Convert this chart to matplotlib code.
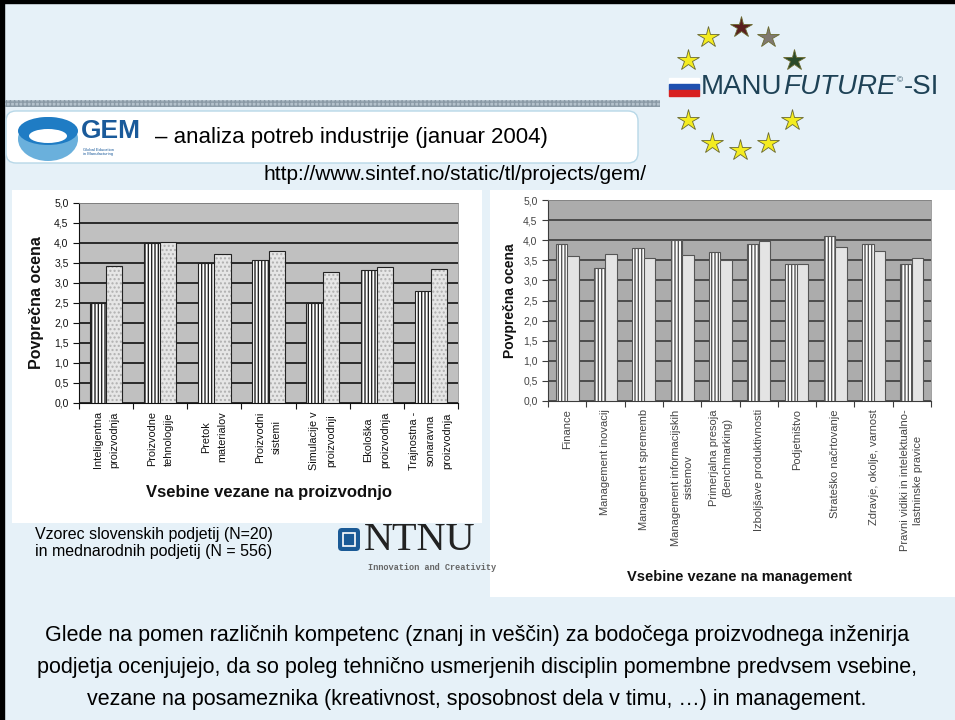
import numpy as np
import matplotlib
matplotlib.use("Agg")
import matplotlib.pyplot as plt
from matplotlib.patches import Rectangle, FancyBboxPatch, Ellipse

# data
prod_labels = ["Inteligentna\nproizvodnja", "Proizvodne\ntehnologije", "Pretok\nmaterialov",
               "Proizvodni\nsistemi", "Simulacije v\nproizvodnji", "Ekološka\nproizvodnja",
               "Trajnostna -\nsonaravna\nproizvodnja"]
prod_slo = [2.5, 4.0, 3.5, 3.58, 2.5, 3.32, 2.8]
prod_int = [3.43, 4.03, 3.73, 3.8, 3.28, 3.4, 3.35]

mgmt_labels = ["Finance", "Management inovacij", "Management sprememb",
               "Management informacijskih\nsistemov", "Primerjalna presoja\n(Benchmarking)",
               "Izboljšave produktivnosti", "Podjetništvo", "Strateško načrtovanje",
               "Zdravje, okolje, varnost", "Pravni vidiki in intelektualno-\nlastninske pravice"]
mgmt_slo = [3.9, 3.3, 3.8, 4.0, 3.7, 3.9, 3.4, 4.1, 3.9, 3.4]
mgmt_int = [3.6, 3.65, 3.55, 3.63, 3.5, 3.98, 3.42, 3.83, 3.72, 3.56]

y_ticks = [0.0, 0.5, 1.0, 1.5, 2.0, 2.5, 3.0, 3.5, 4.0, 4.5, 5.0]

footer = ["Glede na pomen različnih kompetenc (znanj in veščin) za bodočega proizvodnega inženirja",
          "podjetja ocenjujejo, da so poleg tehnično usmerjenih disciplin pomembne predvsem vsebine,",
          "vezane na posameznika (kreativnost, sposobnost dela v timu, …) in management."]

plt.rcParams["font.family"] = ["Liberation Sans", "DejaVu Sans"]

W, H = 955, 720
fig = plt.figure(figsize=(9.55, 7.2), dpi=100, facecolor="#e6f1f8")
rend = fig.canvas.get_renderer()

# background / decorations in pixel coordinates
bg = fig.add_axes([0, 0, 1, 1])
bg.set_xlim(0, W)
bg.set_ylim(H, 0)
bg.axis("off")
bg.add_patch(Rectangle((0, 0), 4, H, color="black"))
bg.add_patch(Rectangle((0, 0), W, 3, color="black"))
bg.add_patch(Rectangle((5, 100), 655, 7, facecolor="#b4c2cc", edgecolor="#8a9aa6",
                       hatch="++++", lw=0))
bg.add_patch(FancyBboxPatch((6, 111), 632, 52, boxstyle="round,pad=0,rounding_size=10",
                            facecolor="white", edgecolor="#b8d8e8", lw=1))
# GEM logo
bg.add_patch(Ellipse((48, 139), 60, 44, facecolor="#6ab0dc", edgecolor="none"))
bg.add_patch(Ellipse((48, 131), 60, 28, facecolor="#1f7cc4", edgecolor="none"))
bg.add_patch(Ellipse((48, 136), 38, 14, facecolor="white", edgecolor="none"))
bg.text(81, 131, "GEM", fontsize=19, fontweight="bold", color="#1a5a9a",
        va="center", ha="left")
bg.text(83, 152, "Global Education\nin Manufacturing", fontsize=3, color="#1a5a9a",
        va="center", ha="left", linespacing=1.1)
bg.text(155, 137, "– analiza potreb industrije (januar 2004)", fontsize=16,
        va="center", ha="left")
bg.text(455, 174, "http://www.sintef.no/static/tl/projects/gem/", fontsize=15,
        va="center", ha="center")

# MANUFUTURE-SI logo
star_x = [708, 741, 768, 794, 688, 688, 792, 712, 740, 768]
star_y = [37, 27, 37, 60, 60, 120, 120, 143, 150, 143]
star_c = ["#f4ec20", "#5a1e1e", "#807870", "#2a4a2a", "#f4ec20", "#f4ec20", "#f4ec20",
          "#f4ec20", "#f4ec20", "#f4ec20"]
for sx, sy, sc in zip(star_x, star_y, star_c):
    bg.plot(sx, sy, marker="*", ms=16, mfc=sc, mec="#6a6a30", mew=0.6)
bg.add_patch(Rectangle((669, 78), 30, 6, color="white"))
bg.add_patch(Rectangle((669, 84), 30, 6, color="#2050b0"))
bg.add_patch(Rectangle((669, 90), 30, 6, color="#d82020"))
logo_parts = [("MANU", 20, "normal", 0), ("FUTURE", 20, "italic", 0),
              ("©", 6, "normal", -6), ("-SI", 20, "normal", 0)]
xpos = 701
for s, fs, st, dy in logo_parts:
    t = bg.text(xpos, 87 + dy, s, fontsize=fs, color="#1e4256", va="center", ha="left",
                style=st)
    xpos = t.get_window_extent(rend).x1 + 1

# chart panels
bg.add_patch(Rectangle((12, 190), 470, 333, color="white", lw=0))
bg.add_patch(Rectangle((490, 190), 465, 407, color="white", lw=0))

# sample note and NTNU logo
bg.text(35, 543, "Vzorec slovenskih podjetij (N=20)\nin mednarodnih podjetij (N = 556)",
        fontsize=11.5, va="center", ha="left", linespacing=1.15)
bg.add_patch(FancyBboxPatch((338, 528), 22, 23, boxstyle="round,pad=0,rounding_size=4",
                            facecolor="#1a5a96", edgecolor="none"))
bg.add_patch(Rectangle((343, 533), 12, 13, facecolor="none", edgecolor="white", lw=1.2))
bg.text(364, 541, "NTNU", fontsize=29, family=["Liberation Serif", "DejaVu Serif"],
        color="#222222", va="center", ha="left")
bg.text(368, 568, "Innovation and Creativity", fontsize=6.2, fontweight="bold",
        family=["Liberation Mono", "DejaVu Sans Mono"], color="#666666",
        va="center", ha="left")

for i, line in enumerate(footer):
    bg.text(477, 636 + i * 31.5, line, fontsize=15.5, va="center", ha="center")

ytl = [f"{v:.1f}".replace(".", ",") for v in y_ticks]


def bar_chart(rect, labels, s1, s2, face, hatch1, col2, hatch2, hcol2, edge, grid, txt,
              lab_fs, lab_ls, xlab, xlab_fs, xlab_y, ylab_fs, ylab_x):
    ax = fig.add_axes(rect)
    ax.set_zorder(2)
    ax.set_facecolor(face)
    x = np.arange(len(labels))
    ax.bar(x - 0.15, s1, 0.3, color="white", edgecolor=edge, hatch=hatch1, lw=0.8, zorder=3)
    # second series: light hatch first, dark outline on top
    ax.bar(x + 0.15, s2, 0.3, color=col2, edgecolor=hcol2, hatch=hatch2, lw=0, zorder=3)
    ax.bar(x + 0.15, s2, 0.3, fill=False, edgecolor=edge, lw=0.8, zorder=4)
    ax.set_xlim(-0.5, len(labels) - 0.5)
    ax.set_ylim(0, 5)
    ax.set_yticks(y_ticks)
    ax.set_yticklabels(ytl, fontsize=7.5, color=txt)
    ax.yaxis.grid(True, color=grid, lw=1.2, zorder=1)
    ax.set_axisbelow(True)
    ax.set_xticks(np.arange(len(labels) + 1) - 0.5)
    ax.set_xticklabels([])
    ax.set_xticks(x, minor=True)
    ax.set_xticklabels(labels, minor=True, rotation=90, fontsize=lab_fs, color=txt,
                       linespacing=lab_ls, va="top", ha="center")
    ax.tick_params(axis="x", which="minor", length=0, pad=6)
    ax.tick_params(axis="both", which="major", length=4, direction="out", color=grid)
    for s in ["left", "bottom"]:
        ax.spines[s].set_color(grid)
    for s in ["top", "right"]:
        ax.spines[s].set_color("#909090")
        ax.spines[s].set_linewidth(0.6)
    x0 = rect[0] + rect[2] / 2
    fig.text(x0, 1 - xlab_y / H, xlab, fontsize=xlab_fs, fontweight="bold", ha="center",
             va="center", color="#111111")
    fig.text(ylab_x / W, rect[1] + rect[3] / 2, "Povprečna ocena", fontsize=ylab_fs,
             fontweight="bold", rotation=90, ha="center", va="center", color="#111111")
    return ax


bar_chart([79 / W, 1 - 403 / H, 379 / W, 200 / H], prod_labels, prod_slo, prod_int,
          "#c0c0c0", "|||||", "#e6e6e6", "....", "#b0b0b0", "#222222", "#111111", "#111111",
          7.8, 1.85, "Vsebine vezane na proizvodnjo", 12, 493, 11.5, 37)
bar_chart([548 / W, 1 - 401 / H, 383 / W, 201 / H], mgmt_labels, mgmt_slo, mgmt_int,
          "#acacac", "|||||", "#e4e4e4", None, "#e4e4e4", "#555555", "#3c3c3c", "#444444",
          8, 1.35, "Vsebine vezane na management", 10.5, 577, 10, 510)

fig.savefig("out.png", dpi=100, facecolor=fig.get_facecolor())
